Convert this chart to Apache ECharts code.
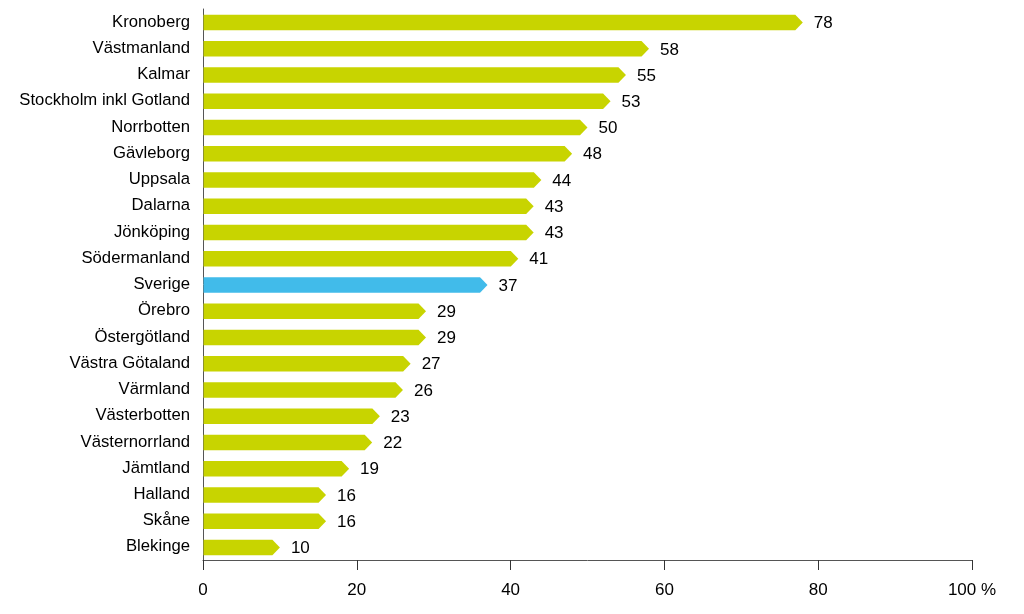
<!DOCTYPE html>
<html>
<head>
<meta charset="utf-8">
<script src="https://cdn.jsdelivr.net/npm/echarts@6/dist/echarts.min.js"></script>
<style>html,body{margin:0;padding:0;background:#fff}#c{width:1024px;height:614px}</style>
</head>
<body>
<div id="c"></div>
<script>
const categories = ['Kronoberg','Västmanland','Kalmar','Stockholm inkl Gotland','Norrbotten','Gävleborg','Uppsala','Dalarna','Jönköping','Södermanland','Sverige','Örebro','Östergötland','Västra Götaland','Värmland','Västerbotten','Västernorrland','Jämtland','Halland','Skåne','Blekinge'];
const values = [78,58,55,53,50,48,44,43,43,41,37,29,29,27,26,23,22,19,16,16,10];
const tickLabels = {0:'0',20:'20',40:'40',60:'60',80:'80',100:'100 %'};
const highlight = 'Sverige';

const GREEN = '#c8d400';
const BLUE = '#41bbea';
const FONT = '"Liberation Sans", Arial, sans-serif';

const chart = echarts.init(document.getElementById('c'));
chart.setOption({
  animation: false,
  grid: {left: 203, right: 52, top: 9, bottom: 54, containLabel: false},
  xAxis: {
    type: 'value', min: 0, max: 100, interval: 20,
    axisLine: {show: true, lineStyle: {color: '#555', width: 1}},
    axisTick: {show: true, length: 10, lineStyle: {color: '#333'}},
    splitLine: {show: false},
    axisLabel: {color: '#000', fontSize: 17, fontFamily: FONT, margin: 22,
      formatter: v => tickLabels[v] !== undefined ? tickLabels[v] : String(v)}
  },
  yAxis: {
    type: 'category', data: categories, inverse: true,
    axisLine: {show: true, lineStyle: {color: '#555', width: 1}},
    axisTick: {show: false},
    axisLabel: {color: '#000', fontSize: 16.7, fontFamily: FONT, margin: 13}
  },
  series: [{
    type: 'custom',
    encode: {x: 0, y: 1},
    data: values.map((v, i) => [v, i]),
    renderItem: function (params, api) {
      const v = api.value(0), idx = api.value(1);
      const start = api.coord([0, idx]);
      const end = api.coord([v, idx]);
      const h = 15.5;
      const tip = 7.5;
      const y = end[1] + 0.5;
      const color = categories[idx] === highlight ? BLUE : GREEN;
      return {
        type: 'group',
        children: [{
          type: 'polygon',
          shape: {points: [[start[0] + 0.5, y - h / 2], [end[0] - tip, y - h / 2], [end[0], y], [end[0] - tip, y + h / 2], [start[0] + 0.5, y + h / 2]]},
          style: {fill: color}
        }, {
          type: 'text',
          x: end[0] + 11, y: y + 1,
          style: {text: String(v), fill: '#000', fontSize: 17, fontFamily: FONT, verticalAlign: 'middle'}
        }]
      };
    }
  }]
});
</script>
</body>
</html>
